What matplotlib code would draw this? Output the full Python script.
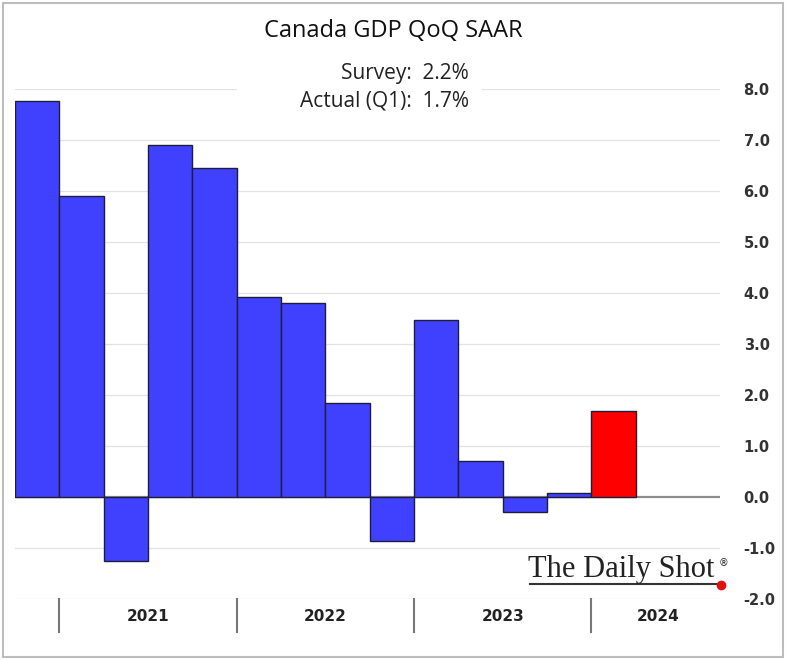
import matplotlib.pyplot as plt
import matplotlib.transforms as mtransforms
from matplotlib.patches import Rectangle
import numpy as np

# Canada GDP QoQ SAAR, 2020Q4 .. 2024Q1
quarters = ["2020Q4",
            "2021Q1", "2021Q2", "2021Q3", "2021Q4",
            "2022Q1", "2022Q2", "2022Q3", "2022Q4",
            "2023Q1", "2023Q2", "2023Q3", "2023Q4",
            "2024Q1"]
gdp = [7.76, 5.90, -1.25, 6.90, 6.45, 3.92, 3.80, 1.84, -0.86,
       3.47, 0.71, -0.29, 0.08, 1.69]
years = ["2021", "2022", "2023", "2024"]
year_start = [1, 5, 9, 13]          # index of first quarter of each year
survey = "Survey:  2.2%"
actual = "Actual (Q1):  1.7%"
yticks = np.arange(-2, 9, 1)

blue = "#4040ff"
red = "#ff0000"
colors = [blue] * (len(gdp) - 1) + [red]

fig = plt.figure(figsize=(7.86, 6.6), dpi=100)
ax = fig.add_axes([15 / 786, 61 / 660, 705 / 786, 510 / 660])

x = np.arange(len(gdp))
ax.bar(x, gdp, width=1.0, color=colors, edgecolor="#1e1e3c", linewidth=1.0, zorder=3)

ax.set_xlim(-0.5, 15.4)
ax.set_ylim(-2, 8)
ax.set_yticks(yticks)
ax.set_yticklabels(["%.1f" % v for v in yticks])
ax.yaxis.tick_right()
ax.tick_params(axis="y", length=0, pad=17, labelsize=10.5, labelcolor="#333333")
for lab in ax.get_yticklabels():
    lab.set_fontweight("bold")
ax.set_xticks([])
for s in ax.spines.values():
    s.set_visible(False)

for v in yticks:
    if v == 0:
        ax.axhline(0, color="#8c8c8c", linewidth=1.6, zorder=2)
    else:
        ax.axhline(v, color="#e2e2e2", linewidth=0.9, zorder=1)

# year separators and labels below the axis
trans = mtransforms.blended_transform_factory(ax.transData, ax.transAxes)
bounds = [s - 0.5 for s in year_start] + [15.4]
for i, yr in enumerate(years):
    ax.plot([bounds[i], bounds[i]], [-0.0, -0.065], transform=trans, color="#777777",
            linewidth=1.5, clip_on=False)
    if i < len(years) - 1:
        xc = (bounds[i] + bounds[i + 1]) / 2
    else:
        xc = 14.0
    ax.text(xc, -0.034, yr, transform=trans, ha="center", va="center",
            fontsize=11, fontweight="bold", color="#222222")

# title and annotation
fig.text(393 / 786, 1 - 31 / 660, "Canada GDP QoQ SAAR", ha="center", va="center",
         fontsize=17, family="Open Sans", color="#111111")
fig.patches.append(Rectangle((237 / 786, 1 - 112 / 660), 245 / 786, 52 / 660,
                             transform=fig.transFigure, facecolor="white",
                             edgecolor="none", zorder=2))
fig.text(469 / 786, 1 - 74 / 660, survey, ha="right", va="center",
         fontsize=15, family="Open Sans", color="#222222", zorder=3)
fig.text(469 / 786, 1 - 101 / 660, actual, ha="right", va="center",
         fontsize=15, family="Open Sans", color="#222222", zorder=3)

# logo
fig.text(528 / 786, 1 - 577 / 660, "The Daily Shot", ha="left", va="baseline",
         fontsize=22, family="Liberation Serif", color="#222222")
fig.text(719 / 786, 1 - 566 / 660, "\u00ae", ha="left", va="baseline",
         fontsize=7, family="DejaVu Sans", color="#222222")
fig.lines.append(plt.Line2D([530 / 786, 720 / 786], [1 - 584 / 660, 1 - 584 / 660],
                            transform=fig.transFigure, color="#333333", linewidth=1.5))
fig.lines.append(plt.Line2D([721 / 786], [1 - 585 / 660], transform=fig.transFigure,
                            marker="o", markersize=6, color="#e01010", linestyle="none"))

# outer frame
fig.patches.append(Rectangle((0.004, 0.004), 0.992, 0.992, transform=fig.transFigure,
                             facecolor="none", edgecolor="#bdbdbd", linewidth=1.5))

fig.savefig("out.png", dpi=100)
